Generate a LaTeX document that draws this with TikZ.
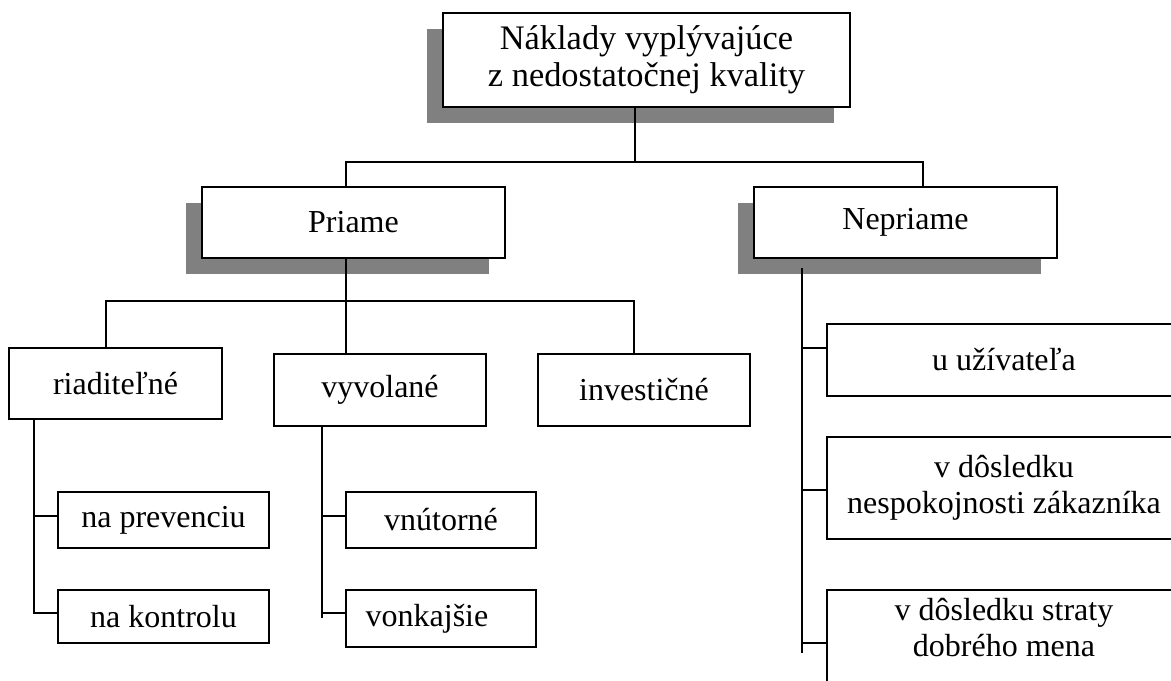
\documentclass[tikz,border=0pt]{standalone}
\usepackage{fontspec}
\setmainfont{Liberation Serif}
\usetikzlibrary{shadows}
\begin{document}
\begin{tikzpicture}[x=0.75pt,y=-0.75pt,
  lw/.style={line width=1.4pt},
  txt/.style={font=\fontsize{24}{27}\selectfont},
  box/.style={draw,lw,fill=white,rectangle,inner sep=0pt,align=center,txt},
  shbox/.style={box,drop shadow={shadow xshift=-12pt,shadow yshift=-12pt,opacity=1,fill=black!50}},
  conn/.style={lw}]
\useasboundingbox (0,0) rectangle (1171,681);
\clip (0,0) rectangle (1171,681);
% top level
\node[shbox,font=\fontsize{25.8}{27.8}\selectfont,minimum width=407*0.75pt,minimum height=94*0.75pt] (T) at (646.5,60) {Náklady vyplývajúce\\z nedostatočnej kvality};
\node[shbox,minimum width=303*0.75pt,minimum height=71*0.75pt] (P) at (353.5,222.5) {Priame};
\node[shbox,minimum width=303*0.75pt,minimum height=71*0.75pt] (N) at (905.5,222.5) {Nepriame};
% second level under Priame
\node[box,minimum width=213*0.75pt,minimum height=71*0.75pt] (R) at (115.5,383.5) {riaditeľné};
\node[box,minimum width=212*0.75pt,minimum height=72*0.75pt] (V) at (380,390) {vyvolané};
\node[box,minimum width=212*0.75pt,minimum height=72*0.75pt] (I) at (644,390) {investičné};
% third level
\node[box,minimum width=211*0.75pt,minimum height=56*0.75pt] (RP) at (163.5,520) {na prevenciu};
\node[box,minimum width=211*0.75pt,minimum height=53*0.75pt] (RK) at (163.5,616.5) {na kontrolu};
\node[box,minimum width=190*0.75pt,minimum height=56*0.75pt] (VN) at (441,520) {vnútorné};
\node[box,minimum width=190*0.75pt,minimum height=57*0.75pt] (VK) at (441,618.5) {\hspace*{-21pt}vonkajšie};
% under Nepriame
\node[box,minimum width=354*0.75pt,minimum height=72*0.75pt] (NU) at (1004,360) {u užívateľa};
\node[box,minimum width=354*0.75pt,minimum height=102*0.75pt] (NZ) at (1004,488) {v dôsledku\\nespokojnosti zákazníka};
\node[box,minimum width=354*0.75pt,minimum height=102*0.75pt] (NS) at (1004,641) {};
\node[txt,align=center,inner sep=0pt] (NSt) at (1004,628) {v dôsledku straty\\dobrého mena};
% junction coordinates
\coordinate (j0) at (635,162);
\coordinate (jP) at (346,162);
\coordinate (jN) at (923,162);
\coordinate (k0) at (346,301);
\coordinate (kR) at (106,301);
\coordinate (kI) at (634,301);
\coordinate (rS) at (34,516);
\coordinate (rE) at (34,613);
\coordinate (vS) at (322,516);
\coordinate (vE) at (322,618);
\coordinate (nS) at (802,268);
\coordinate (nE) at (802,653);
% connectors
\draw[conn] (T.south -| j0) -- (j0);
\draw[conn] (P.north -| jP) -- (jP) -- (jN) -- (N.north -| jN);
\draw[conn] (P.south -| k0) -- (V.north -| k0);
\draw[conn] (R.north -| kR) -- (kR) -- (kI) -- (I.north -| kI);
\draw[conn] (R.south -| rS) -- (rE) -- (RK.west |- rE);
\draw[conn] (rS) -- (RP.west |- rS);
\draw[conn] (V.south -| vS) -- (vE);
\draw[conn] (vS) -- (VN.west |- vS);
\draw[conn] (322,613) coordinate (vK) -- (VK.west |- vK);
\draw[conn] (nS) -- (nE);
\draw[conn] (802,348) coordinate (nu) -- (NU.west |- nu);
\draw[conn] (802,490) coordinate (nz) -- (NZ.west |- nz);
\draw[conn] (802,643) coordinate (ns) -- (NS.west |- ns);
\end{tikzpicture}
\end{document}
